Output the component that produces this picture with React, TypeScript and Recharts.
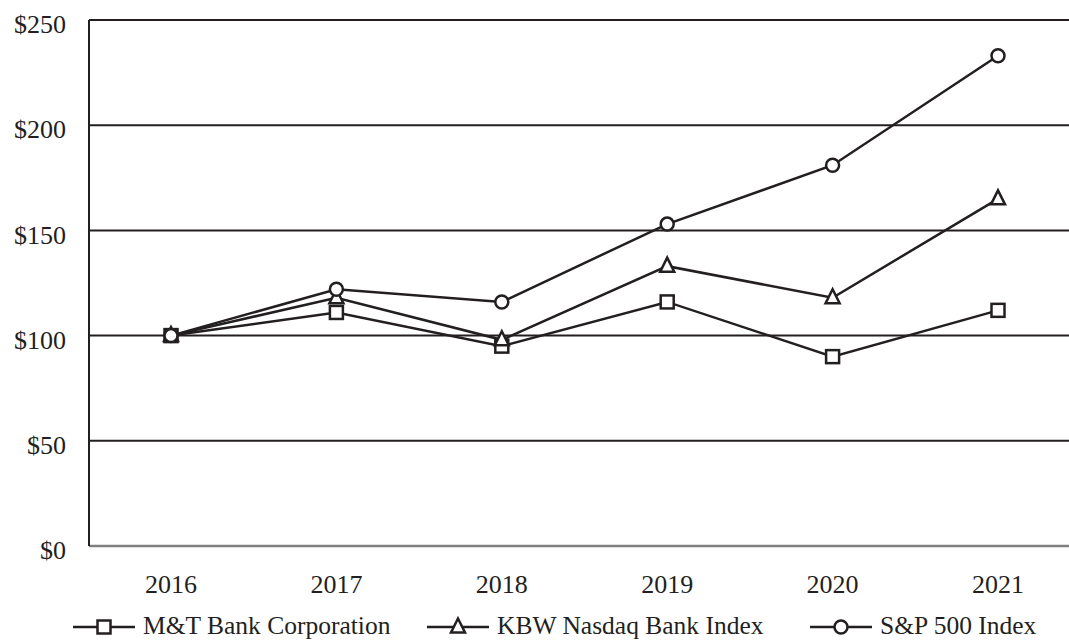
import React from 'react';
import { LineChart, Line, XAxis, YAxis, CartesianGrid, Legend } from 'recharts';

// cumulative total return, $100 invested at end of 2016
const years = ['2016', '2017', '2018', '2019', '2020', '2021'];
const mtBank = [100, 111, 95, 116, 90, 112];
const kbwIndex = [100, 118, 98, 133, 118, 165];
const spIndex = [100, 122, 116, 153, 181, 233];
const yTicks = [0, 50, 100, 150, 200, 250];

const INK = '#231f20';
const FONT = '"Liberation Serif", "Times New Roman", serif';
const W = 1069;
const H = 640;

const data = years.map((year, i) => ({
  year,
  mt: mtBank[i],
  kbw: kbwIndex[i],
  sp: spIndex[i],
}));

type Shape = 'square' | 'triangle' | 'circle';

const series: { key: string; name: string; shape: Shape; legendX: number }[] = [
  { key: 'mt', name: 'M&T Bank Corporation', shape: 'square', legendX: 73 },
  { key: 'kbw', name: 'KBW Nasdaq Bank Index', shape: 'triangle', legendX: 427 },
  { key: 'sp', name: 'S&P 500 Index', shape: 'circle', legendX: 810 },
];

const Marker = ({ shape, x, y }: { shape: Shape; x: number; y: number }) => {
  const common = { fill: '#fff', stroke: INK, strokeWidth: 2.5 };
  if (shape === 'square') {
    return <rect x={x - 6.5} y={y - 6.5} width={13} height={13} {...common} />;
  }
  if (shape === 'triangle') {
    return (
      <polygon
        points={`${x},${y - 8.5} ${x + 7},${y + 5.5} ${x - 7},${y + 5.5}`}
        strokeLinejoin="miter"
        {...common}
      />
    );
  }
  return <circle cx={x} cy={y} r={6.5} {...common} />;
};

const makeDot = (shape: Shape) => (props: any) => {
  const { cx, cy, index } = props;
  if (cx == null || cy == null) return <g key={`d-${shape}-${index}`} />;
  return (
    <g key={`d-${shape}-${index}`}>
      <Marker shape={shape} x={cx} y={cy} />
    </g>
  );
};

const YTick = (props: any) => {
  const { x, y, payload } = props;
  return (
    <text x={x} y={y + 4} dy="0.355em" textAnchor="end" fill={INK} fontFamily={FONT} fontSize={26}>
      {`$${payload.value}`}
    </text>
  );
};

const XTick = (props: any) => {
  const { x, y, payload } = props;
  return (
    <text x={x} y={y} dy="0.71em" textAnchor="middle" fill={INK} fontFamily={FONT} fontSize={26}>
      {payload.value}
    </text>
  );
};

const renderLegend = () => (
  <svg width={W} height={44} style={{ display: 'block' }}>
    {series.map((s) => (
      <g key={s.key}>
        <line x1={s.legendX} x2={s.legendX + 62} y1={31} y2={31} stroke={INK} strokeWidth={2.5} />
        <Marker shape={s.shape} x={s.legendX + 31} y={31} />
        <text x={s.legendX + 70} y={38} fill={INK} fontFamily={FONT} fontSize={25.5}>
          {s.name}
        </text>
      </g>
    ))}
  </svg>
);

export default function App() {
  return (
    <div style={{ position: 'absolute', left: 0, top: 0, width: W, height: H, background: '#fff' }}>
      <LineChart width={W} height={H} data={data} margin={{ top: 20, right: 0, bottom: 0, left: 0 }}>
        <CartesianGrid
          vertical={false}
          horizontalValues={[50, 100, 150, 200, 250]}
          stroke={INK}
          strokeWidth={2}
        />
        <XAxis
          dataKey="year"
          interval={0}
          padding={{ left: 82, right: 71 }}
          tickLine={false}
          tickSize={0}
          tickMargin={29}
          height={50}
          axisLine={{ stroke: '#7f7f7f', strokeWidth: 2.5 }}
          tick={<XTick />}
        />
        <YAxis
          domain={[0, 250]}
          ticks={yTicks}
          interval={0}
          width={89}
          tickLine={false}
          tickSize={0}
          tickMargin={23}
          axisLine={{ stroke: INK, strokeWidth: 2 }}
          tick={<YTick />}
        />
        <Legend verticalAlign="bottom" align="left" content={renderLegend} wrapperStyle={{ lineHeight: 0 }} />
        {series.map((s) => (
          <Line
            key={s.key}
            dataKey={s.key}
            name={s.name}
            type="linear"
            stroke={INK}
            strokeWidth={2.5}
            dot={makeDot(s.shape)}
            activeDot={false}
            isAnimationActive={false}
          />
        ))}
      </LineChart>
    </div>
  );
}
